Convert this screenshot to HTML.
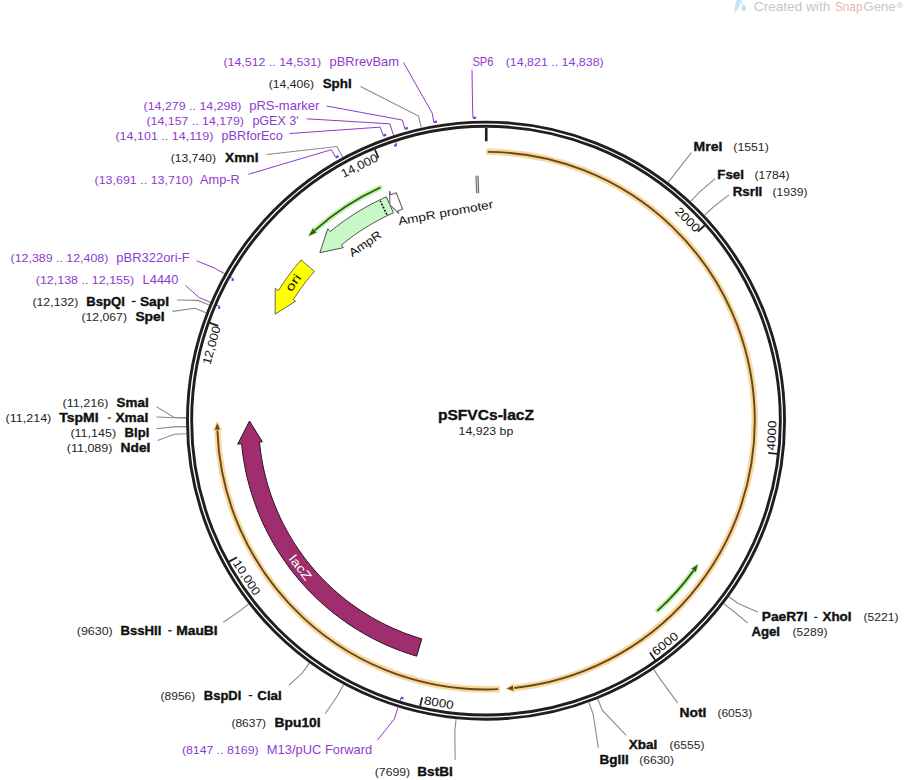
<!DOCTYPE html>
<html><head><meta charset="utf-8"><style>
html,body{margin:0;padding:0;background:#fff;width:904px;height:780px;overflow:hidden}
svg{display:block}
text{font-family:"Liberation Sans",sans-serif}
</style></head><body>
<svg width="904" height="780" viewBox="0 0 904 780">
<rect width="904" height="780" fill="#fff"/>
<g>
<path d="M734.3,13 C734.6,8 735.6,3.5 736.6,0 L741.6,0 C740.5,4.5 738.2,9 734.3,13 Z" fill="#c2e3f1"/>
<path d="M740.6,0.8 C741.8,2.5 742.6,4.2 743,5.8" fill="none" stroke="#d6eef7" stroke-width="1.6"/>
<ellipse cx="743.8" cy="8.2" rx="2.2" ry="2.9" fill="#c6e2ee"/>
<text x="753.8" y="11" font-size="12.8" font-weight="normal" fill="#c6c6c6" stroke="#c6c6c6" stroke-width="0" textLength="76.45" lengthAdjust="spacingAndGlyphs" >Created with</text>
<text x="835" y="11" font-size="12.8" font-weight="normal" fill="#e9b3b3" stroke="#e9b3b3" stroke-width="0" textLength="27.44" lengthAdjust="spacingAndGlyphs" >Snap</text>
<text x="863.5" y="11" font-size="12.8" font-weight="normal" fill="#c6c6c6" stroke="#c6c6c6" stroke-width="0" textLength="31.95" lengthAdjust="spacingAndGlyphs" >Gene</text>
<text x="896.2" y="7.6" font-size="8" font-weight="normal" fill="#c6c6c6" stroke="#c6c6c6" stroke-width="0" textLength="6.77" lengthAdjust="spacingAndGlyphs" >®</text>
</g>
<polyline points="433.83,122.18 432.28,113.31 403.5,62.5" fill="none" stroke="#8f3ad0" stroke-width="1.0"/>
<path d="M433.83,122.18 A303,303 0 0 1 436.96,121.65" fill="none" stroke="#8f3ad0" stroke-width="2.3"/>
<polyline points="421.21,127.73 418.62,116.01 360.5,86.5" fill="none" stroke="#8a8a8a" stroke-width="1.1"/>
<polyline points="404.84,128.72 402.43,120.05 326.6,106" fill="none" stroke="#8f3ad0" stroke-width="1.0"/>
<path d="M404.84,128.72 A303,303 0 0 1 407.91,127.89" fill="none" stroke="#8f3ad0" stroke-width="2.3"/>
<polyline points="396.7,144.95 389.86,123.83 306.6,118.8" fill="none" stroke="#8f3ad0" stroke-width="1.0"/>
<path d="M396.7,144.95 A289.8,289.8 0 0 0 394.15,145.79" fill="none" stroke="#8f3ad0" stroke-width="2.3"/>
<polyline points="383.21,135.62 380.16,127.15 289.6,133.5" fill="none" stroke="#8f3ad0" stroke-width="1.0"/>
<path d="M383.21,135.62 A303,303 0 0 1 386.2,134.56" fill="none" stroke="#8f3ad0" stroke-width="2.3"/>
<polyline points="342.68,157.1 336.94,146.56 266.8,154.5" fill="none" stroke="#8a8a8a" stroke-width="1.1"/>
<polyline points="335.78,157.51 331.32,149.69 248.4,174.3" fill="none" stroke="#8f3ad0" stroke-width="1.0"/>
<path d="M335.78,157.51 A303,303 0 0 1 338.55,155.95" fill="none" stroke="#8f3ad0" stroke-width="2.3"/>
<polyline points="472.99,117.93 472.6,108.94 472,69.8" fill="none" stroke="#8f3ad0" stroke-width="1.0"/>
<path d="M472.99,117.93 A303,303 0 0 1 476.16,117.81" fill="none" stroke="#8f3ad0" stroke-width="2.3"/>
<polyline points="233.35,278.7 213.99,267.83 196.6,260.8" fill="none" stroke="#8f3ad0" stroke-width="1.0"/>
<path d="M233.35,278.7 A289.8,289.8 0 0 0 232.12,280.91" fill="none" stroke="#8f3ad0" stroke-width="2.3"/>
<polyline points="219.68,306.37 199.28,297.61 185.4,285.4" fill="none" stroke="#8f3ad0" stroke-width="1.0"/>
<path d="M219.68,306.37 A289.8,289.8 0 0 0 218.7,308.7" fill="none" stroke="#8f3ad0" stroke-width="2.3"/>
<polyline points="209.18,305.02 198.11,300.4 177.3,300" fill="none" stroke="#8a8a8a" stroke-width="1.1"/>
<polyline points="206.12,312.64 194.92,308.32 172.5,311.4" fill="none" stroke="#8a8a8a" stroke-width="1.1"/>
<polyline points="186.01,417.65 174.02,417.53 156.4,406.6" fill="none" stroke="#8a8a8a" stroke-width="1.1"/>
<polyline points="186.01,417.9 174.01,417.79 156.4,417" fill="none" stroke="#8a8a8a" stroke-width="1.1"/>
<polyline points="186.06,426.62 174.06,426.86 156.4,428.7" fill="none" stroke="#8a8a8a" stroke-width="1.1"/>
<polyline points="186.28,433.69 174.29,434.21 157.5,440.4" fill="none" stroke="#8a8a8a" stroke-width="1.1"/>
<polyline points="248.59,604.06 239.1,611.39 223.3,622.3" fill="none" stroke="#8a8a8a" stroke-width="1.1"/>
<polyline points="309.44,663.19 302.38,672.89 288.8,685.4" fill="none" stroke="#8a8a8a" stroke-width="1.1"/>
<polyline points="343.51,684.65 337.81,695.21 325.2,713.7" fill="none" stroke="#8a8a8a" stroke-width="1.1"/>
<polyline points="400.94,697.69 394.43,718.91 377.3,740.3" fill="none" stroke="#8f3ad0" stroke-width="1.0"/>
<path d="M400.94,697.69 A289.8,289.8 0 0 0 403.51,698.46" fill="none" stroke="#8f3ad0" stroke-width="2.3"/>
<polyline points="456.05,719.15 454.85,731.09 455.1,759.7" fill="none" stroke="#8a8a8a" stroke-width="1.1"/>
<polyline points="588.9,702.45 593.01,713.72 598.3,747.6" fill="none" stroke="#8a8a8a" stroke-width="1.1"/>
<polyline points="597.74,699.06 602.21,710.2 626.2,735.3" fill="none" stroke="#8a8a8a" stroke-width="1.1"/>
<polyline points="653.66,669.42 660.37,679.38 677.6,702.8" fill="none" stroke="#8a8a8a" stroke-width="1.1"/>
<polyline points="723.72,603.66 733.22,610.98 747.8,623.2" fill="none" stroke="#8a8a8a" stroke-width="1.1"/>
<polyline points="728.86,596.78 738.57,603.82 757.8,611.9" fill="none" stroke="#8a8a8a" stroke-width="1.1"/>
<polyline points="668.28,182.38 675.57,172.85 691.4,152.6" fill="none" stroke="#8a8a8a" stroke-width="1.1"/>
<polyline points="690.74,201.38 698.93,192.6 714.9,178.9" fill="none" stroke="#8a8a8a" stroke-width="1.1"/>
<polyline points="704.6,215.19 713.35,206.98 729,194.9" fill="none" stroke="#8a8a8a" stroke-width="1.1"/>
<circle cx="486.0" cy="420.65" r="296.45" fill="none" stroke="#1f1f1f" stroke-width="7.1"/>
<circle cx="486.0" cy="420.65" r="296.45" fill="none" stroke="#fff" stroke-width="1.3"/>
<line x1="486.26" y1="127.65" x2="486.24" y2="141.15" stroke="#1f1f1f" stroke-width="2.6"/>
<line x1="704.59" y1="225.54" x2="697.87" y2="231.53" stroke="#1f1f1f" stroke-width="1.8"/>
<g transform="translate(687.76,219.51) rotate(45.09)"><text x="0" y="4.28" text-anchor="middle" font-size="11.9" font-weight="normal" fill="#111" textLength="29.78" lengthAdjust="spacingAndGlyphs">2000</text></g>
<line x1="777.12" y1="453.79" x2="768.18" y2="452.78" stroke="#1f1f1f" stroke-width="1.8"/>
<g transform="translate(771.41,435.58) rotate(-87.01)"><text x="0" y="4.28" text-anchor="middle" font-size="11.9" font-weight="normal" fill="#111" textLength="29.78" lengthAdjust="spacingAndGlyphs">4000</text></g>
<line x1="655.13" y1="659.91" x2="649.94" y2="652.56" stroke="#1f1f1f" stroke-width="1.8"/>
<g transform="translate(664.92,643.51) rotate(-38.76)"><text x="0" y="4.28" text-anchor="middle" font-size="11.9" font-weight="normal" fill="#111" textLength="29.78" lengthAdjust="spacingAndGlyphs">6000</text></g>
<line x1="420.14" y1="706.15" x2="422.16" y2="697.38" stroke="#1f1f1f" stroke-width="1.8"/>
<g transform="translate(438.88,702.54) rotate(9.49)"><text x="0" y="4.28" text-anchor="middle" font-size="11.9" font-weight="normal" fill="#111" textLength="29.78" lengthAdjust="spacingAndGlyphs">8000</text></g>
<line x1="229.15" y1="561.63" x2="237.04" y2="557.3" stroke="#1f1f1f" stroke-width="1.8"/>
<g transform="translate(246.95,577.3) rotate(56.76)"><text x="0" y="4.28" text-anchor="middle" font-size="11.9" font-weight="normal" fill="#111" textLength="39.44" lengthAdjust="spacingAndGlyphs">10,000</text></g>
<line x1="209.78" y1="322.91" x2="218.27" y2="325.91" stroke="#1f1f1f" stroke-width="1.8"/>
<g transform="translate(211.27,345.22) rotate(-74.65)"><text x="0" y="4.28" text-anchor="middle" font-size="11.9" font-weight="normal" fill="#111" textLength="39.44" lengthAdjust="spacingAndGlyphs">12,000</text></g>
<line x1="374.98" y1="149.5" x2="378.39" y2="157.83" stroke="#1f1f1f" stroke-width="1.8"/>
<g transform="translate(359.33,165.46) rotate(-26.4)"><text x="0" y="4.28" text-anchor="middle" font-size="11.9" font-weight="normal" fill="#111" textLength="39.44" lengthAdjust="spacingAndGlyphs">14,000</text></g>
<path d="M486,151.85 A268.8,268.8 0 0 1 514.1,687.98" fill="none" stroke="#f8d89e" stroke-width="6.5" stroke-linecap="butt"/>
<path d="M514.62,692.95 L504.98,688.78 L513.57,683 Z" fill="#f8d89e"/>
<path d="M487.88,151.86 A268.8,268.8 0 0 1 514.1,687.98" fill="none" stroke="#684718" stroke-width="1.9" stroke-linecap="butt"/>
<path d="M513.45,690.66 L506.81,688.64 L512.92,685.48 Z" fill="#684718"/>
<path d="M500.07,689.08 A268.8,268.8 0 0 1 217.38,430.5" fill="none" stroke="#f8d89e" stroke-width="6.5" stroke-linecap="butt"/>
<path d="M212.38,430.68 L217.2,421.12 L222.38,430.32 Z" fill="#f8d89e"/>
<path d="M498.19,689.17 A268.8,268.8 0 0 1 217.38,430.5" fill="none" stroke="#684718" stroke-width="1.9" stroke-linecap="butt"/>
<path d="M214.75,429.65 L217.21,423 L219.95,429.48 Z" fill="#684718"/>
<path d="M379.84,187.7 A256,256 0 0 0 315.37,229.81" fill="none" stroke="#c2f2a4" stroke-width="5.5" stroke-linecap="round"/>
<path d="M312.57,226.68 L307.53,237.12 L318.17,232.94 Z" fill="#c2f2a4"/>
<path d="M379.84,187.7 A256,256 0 0 0 315.37,229.81" fill="none" stroke="#2c5c17" stroke-width="1.8" stroke-linecap="round"/>
<path d="M312.83,228.59 L308.68,236 L316.31,232.46 Z" fill="#2c5c17"/>
<path d="M657.79,610.45 A256,256 0 0 0 693.11,571.12" fill="none" stroke="#c2f2a4" stroke-width="5.5" stroke-linecap="round"/>
<path d="M696.51,573.59 L698.48,563.43 L689.71,568.65 Z" fill="#c2f2a4"/>
<path d="M657.79,610.45 A256,256 0 0 0 693.11,571.12" fill="none" stroke="#2c5c17" stroke-width="1.8" stroke-linecap="round"/>
<path d="M695.77,571.88 L697.69,564.6 L691.55,568.84 Z" fill="#2c5c17"/>
<path d="M386.35,196.83 L382.58,198.55 L378.84,200.33 L375.13,202.17 L371.45,204.08 L367.81,206.05 L364.19,208.07 L360.62,210.16 L357.08,212.31 L353.57,214.52 L350.11,216.79 L346.68,219.12 L343.29,221.5 L339.95,223.94 L336.64,226.44 L333.38,228.99 L330.16,231.6 L327.81,228.75 L319.82,252.72 L343.39,247.65 L341.29,245.11 L344.28,242.68 L347.31,240.31 L350.38,237.99 L353.49,235.73 L356.63,233.51 L359.81,231.35 L363.03,229.25 L366.29,227.19 L369.57,225.2 L372.9,223.26 L376.25,221.37 L379.63,219.55 L383.05,217.78 L386.49,216.07 L389.97,214.41 L393.47,212.82 Z" fill="#c8f7c8" stroke="#4a564a" stroke-width="1.0" stroke-linejoin="miter"/>
<line x1="386.91" y1="214.75" x2="380.19" y2="200.79" stroke="#111" stroke-width="1.6" stroke-dasharray="2,1.5"/>
<path d="M396.21,192.7 L393.63,193.73 L391.06,194.79 L389.51,191.11 L389.91,204.82 L399,213.69 L397.84,210.93 L400.23,209.94 L402.62,208.98 Z" fill="#ffffff" stroke="#666" stroke-width="1.1" stroke-linejoin="miter"/>
<path d="M301.1,259.92 L298.35,263.13 L295.66,266.39 L293.03,269.7 L290.45,273.05 L287.93,276.45 L285.47,279.89 L283.07,283.37 L280.73,286.89 L278.46,290.46 L275.24,288.44 L275.13,314.13 L295.57,301.19 L293.28,299.76 L295.39,296.45 L297.57,293.18 L299.79,289.94 L302.08,286.75 L304.42,283.6 L306.81,280.48 L309.25,277.41 L311.75,274.38 L314.3,271.4 Z" fill="#ffff00" stroke="#555" stroke-width="0.9" stroke-linejoin="miter"/>
<path d="M416.69,656.16 L412.63,654.93 L408.6,653.63 L404.6,652.26 L400.61,650.82 L396.65,649.31 L392.72,647.74 L388.82,646.1 L384.94,644.39 L381.1,642.61 L377.29,640.77 L373.51,638.86 L369.76,636.89 L366.05,634.85 L362.37,632.75 L358.73,630.58 L355.13,628.36 L351.56,626.07 L348.04,623.72 L344.56,621.31 L341.12,618.84 L337.72,616.31 L334.37,613.72 L331.06,611.08 L327.8,608.38 L324.58,605.62 L321.41,602.81 L318.3,599.94 L315.23,597.02 L312.21,594.05 L309.25,591.03 L306.33,587.95 L303.47,584.83 L300.67,581.66 L297.92,578.44 L295.23,575.17 L292.59,571.85 L290.01,568.49 L287.49,565.09 L285.03,561.65 L282.62,558.16 L280.28,554.63 L278,551.06 L275.78,547.45 L273.63,543.81 L271.53,540.13 L269.51,536.41 L267.54,532.66 L265.64,528.87 L263.81,525.06 L262.04,521.21 L260.34,517.33 L258.7,513.42 L257.14,509.49 L255.64,505.53 L254.21,501.54 L252.85,497.53 L251.56,493.5 L250.33,489.44 L249.18,485.36 L248.1,481.27 L247.09,477.16 L246.15,473.03 L245.28,468.88 L244.49,464.72 L243.76,460.55 L243.11,456.37 L242.53,452.17 L242.02,447.97 L241.59,443.75 L237.71,444.12 L249.5,421.06 L262.3,441.8 L259.51,442.06 L259.91,445.96 L260.38,449.86 L260.92,453.75 L261.52,457.62 L262.2,461.49 L262.93,465.35 L263.74,469.19 L264.61,473.01 L265.54,476.83 L266.55,480.62 L267.61,484.4 L268.75,488.15 L269.94,491.89 L271.2,495.61 L272.53,499.3 L273.92,502.97 L275.37,506.62 L276.88,510.24 L278.46,513.83 L280.1,517.4 L281.8,520.94 L283.56,524.45 L285.38,527.92 L287.26,531.37 L289.2,534.78 L291.2,538.16 L293.25,541.5 L295.37,544.81 L297.54,548.08 L299.76,551.31 L302.04,554.5 L304.38,557.65 L306.77,560.77 L309.21,563.84 L311.71,566.87 L314.26,569.85 L316.86,572.79 L319.51,575.69 L322.21,578.54 L324.95,581.34 L327.75,584.09 L330.59,586.8 L333.48,589.45 L336.42,592.06 L339.4,594.61 L342.42,597.12 L345.48,599.57 L348.59,601.96 L351.74,604.31 L354.93,606.6 L358.15,608.83 L361.42,611.01 L364.72,613.13 L368.06,615.19 L371.43,617.2 L374.84,619.14 L378.28,621.03 L381.75,622.86 L385.26,624.63 L388.79,626.34 L392.35,627.98 L395.94,629.57 L399.56,631.09 L403.2,632.55 L406.87,633.95 L410.56,635.28 L414.28,636.55 L418.01,637.75 L421.77,638.89 Z" fill="#a02e6e" stroke="#2a1020" stroke-width="1.0" stroke-linejoin="miter"/>
<line x1="477.66" y1="193.3" x2="477.02" y2="175.81" stroke="#6a6a6a" stroke-width="3.2"/>
<line x1="477.66" y1="193.3" x2="477.02" y2="175.81" stroke="#d8d8d8" stroke-width="1.0"/>
<g transform="translate(445.6,212.5) rotate(-10.3)"><text x="0" y="4.25" text-anchor="middle" font-size="11.8" font-weight="normal" fill="#111" textLength="96.5" lengthAdjust="spacingAndGlyphs">AmpR promoter</text></g>
<g transform="translate(365,243.5) rotate(-34.2)"><text x="0" y="4.18" text-anchor="middle" font-size="11.6" font-weight="normal" fill="#111" textLength="36.5" lengthAdjust="spacingAndGlyphs">AmpR</text></g>
<g transform="translate(293,282.6) rotate(-54.5)"><text x="0" y="4.32" text-anchor="middle" font-size="12" font-weight="normal" fill="#111" textLength="18" lengthAdjust="spacingAndGlyphs">ori</text></g>
<g transform="translate(300.5,567.5) rotate(52)"><text x="0" y="4.46" text-anchor="middle" font-size="12.4" font-weight="normal" fill="#fff" textLength="28.5" lengthAdjust="spacingAndGlyphs">lacZ</text></g>
<text x="437.9" y="420.1" font-size="15.2" font-weight="bold" fill="#111" stroke="#111" stroke-width="0.35" textLength="96.16" lengthAdjust="spacingAndGlyphs" >pSFVCs-lacZ</text>
<text x="458.6" y="435" font-size="11.8" font-weight="normal" fill="#222" stroke="#222" stroke-width="0" textLength="54.68" lengthAdjust="spacingAndGlyphs" >14,923 bp</text>
<text x="223.4" y="65.9" font-size="11.2" font-weight="normal" fill="#8f3ad0" stroke="#8f3ad0" stroke-width="0" textLength="97.85" lengthAdjust="spacingAndGlyphs" >(14,512 .. 14,531)</text>
<text x="329.6" y="65.9" font-size="12.4" font-weight="normal" fill="#8f3ad0" stroke="#8f3ad0" stroke-width="0" textLength="69.41" lengthAdjust="spacingAndGlyphs" >pBRrevBam</text>
<text x="268.8" y="88.1" font-size="11.2" font-weight="normal" fill="#262626" stroke="#262626" stroke-width="0" textLength="45.15" lengthAdjust="spacingAndGlyphs" >(14,406)</text>
<text x="322.7" y="88.1" font-size="12.4" font-weight="bold" fill="#111" stroke="#111" stroke-width="0.35" textLength="28.95" lengthAdjust="spacingAndGlyphs" >SphI</text>
<text x="143.6" y="110.1" font-size="11.2" font-weight="normal" fill="#8f3ad0" stroke="#8f3ad0" stroke-width="0" textLength="97.85" lengthAdjust="spacingAndGlyphs" >(14,279 .. 14,298)</text>
<text x="249.2" y="110.1" font-size="12.4" font-weight="normal" fill="#8f3ad0" stroke="#8f3ad0" stroke-width="0" textLength="70.09" lengthAdjust="spacingAndGlyphs" >pRS-marker</text>
<text x="146.5" y="124.7" font-size="11.2" font-weight="normal" fill="#8f3ad0" stroke="#8f3ad0" stroke-width="0" textLength="97.45" lengthAdjust="spacingAndGlyphs" >(14,157 .. 14,179)</text>
<text x="252.4" y="124.7" font-size="12.4" font-weight="normal" fill="#8f3ad0" stroke="#8f3ad0" stroke-width="0" textLength="46.24" lengthAdjust="spacingAndGlyphs" >pGEX 3'</text>
<text x="115.4" y="140" font-size="11.2" font-weight="normal" fill="#8f3ad0" stroke="#8f3ad0" stroke-width="0" textLength="97.99" lengthAdjust="spacingAndGlyphs" >(14,101 .. 14,119)</text>
<text x="221.5" y="140" font-size="12.4" font-weight="normal" fill="#8f3ad0" stroke="#8f3ad0" stroke-width="0" textLength="61.24" lengthAdjust="spacingAndGlyphs" >pBRforEco</text>
<text x="170.7" y="161.7" font-size="11.2" font-weight="normal" fill="#262626" stroke="#262626" stroke-width="0" textLength="45.25" lengthAdjust="spacingAndGlyphs" >(13,740)</text>
<text x="225" y="161.7" font-size="12.4" font-weight="bold" fill="#111" stroke="#111" stroke-width="0.35" textLength="33.47" lengthAdjust="spacingAndGlyphs" >XmnI</text>
<text x="94.5" y="183.8" font-size="11.2" font-weight="normal" fill="#8f3ad0" stroke="#8f3ad0" stroke-width="0" textLength="98.45" lengthAdjust="spacingAndGlyphs" >(13,691 .. 13,710)</text>
<text x="200" y="183.8" font-size="12.4" font-weight="normal" fill="#8f3ad0" stroke="#8f3ad0" stroke-width="0" textLength="39.72" lengthAdjust="spacingAndGlyphs" >Amp-R</text>
<text x="472.4" y="65.6" font-size="12.4" font-weight="normal" fill="#8f3ad0" stroke="#8f3ad0" stroke-width="0" textLength="21.2" lengthAdjust="spacingAndGlyphs" >SP6</text>
<text x="505.7" y="65.6" font-size="11.2" font-weight="normal" fill="#8f3ad0" stroke="#8f3ad0" stroke-width="0" textLength="98.05" lengthAdjust="spacingAndGlyphs" >(14,821 .. 14,838)</text>
<text x="10.6" y="261.5" font-size="11.2" font-weight="normal" fill="#8f3ad0" stroke="#8f3ad0" stroke-width="0" textLength="97.75" lengthAdjust="spacingAndGlyphs" >(12,389 .. 12,408)</text>
<text x="116.3" y="261.5" font-size="12.4" font-weight="normal" fill="#8f3ad0" stroke="#8f3ad0" stroke-width="0" textLength="73.48" lengthAdjust="spacingAndGlyphs" >pBR322ori-F</text>
<text x="35.8" y="283.5" font-size="11.2" font-weight="normal" fill="#8f3ad0" stroke="#8f3ad0" stroke-width="0" textLength="98.25" lengthAdjust="spacingAndGlyphs" >(12,138 .. 12,155)</text>
<text x="142.6" y="283.5" font-size="12.4" font-weight="normal" fill="#8f3ad0" stroke="#8f3ad0" stroke-width="0" textLength="35.81" lengthAdjust="spacingAndGlyphs" >L4440</text>
<text x="32.4" y="305.5" font-size="11.2" font-weight="normal" fill="#262626" stroke="#262626" stroke-width="0" textLength="45.95" lengthAdjust="spacingAndGlyphs" >(12,132)</text>
<text x="86.3" y="305.5" font-size="12.4" font-weight="bold" fill="#111" stroke="#111" stroke-width="0.35" textLength="38.56" lengthAdjust="spacingAndGlyphs" >BspQI</text>
<rect x="131.70" y="300.90" width="4.00" height="1.2" fill="#111"/>
<text x="139.9" y="305.5" font-size="12.4" font-weight="bold" fill="#111" stroke="#111" stroke-width="0.35" textLength="29.22" lengthAdjust="spacingAndGlyphs" >SapI</text>
<text x="81.5" y="320.9" font-size="11.2" font-weight="normal" fill="#262626" stroke="#262626" stroke-width="0" textLength="45.45" lengthAdjust="spacingAndGlyphs" >(12,067)</text>
<text x="135.4" y="320.9" font-size="12.4" font-weight="bold" fill="#111" stroke="#111" stroke-width="0.35" textLength="29.22" lengthAdjust="spacingAndGlyphs" >SpeI</text>
<text x="62.6" y="407.3" font-size="11.2" font-weight="normal" fill="#262626" stroke="#262626" stroke-width="0" textLength="45.8" lengthAdjust="spacingAndGlyphs" >(11,216)</text>
<text x="116.6" y="407.3" font-size="12.4" font-weight="bold" fill="#111" stroke="#111" stroke-width="0.35" textLength="32.1" lengthAdjust="spacingAndGlyphs" >SmaI</text>
<text x="5.5" y="422.1" font-size="11.2" font-weight="normal" fill="#262626" stroke="#262626" stroke-width="0" textLength="45.8" lengthAdjust="spacingAndGlyphs" >(11,214)</text>
<text x="59.3" y="422.1" font-size="12.4" font-weight="bold" fill="#111" stroke="#111" stroke-width="0.35" textLength="39.26" lengthAdjust="spacingAndGlyphs" >TspMI</text>
<rect x="107.70" y="417.50" width="3.20" height="1.2" fill="#111"/>
<text x="115.5" y="422.1" font-size="12.4" font-weight="bold" fill="#111" stroke="#111" stroke-width="0.35" textLength="32.7" lengthAdjust="spacingAndGlyphs" >XmaI</text>
<text x="70.4" y="437.1" font-size="11.2" font-weight="normal" fill="#262626" stroke="#262626" stroke-width="0" textLength="45.8" lengthAdjust="spacingAndGlyphs" >(11,145)</text>
<text x="124.6" y="437.1" font-size="12.4" font-weight="bold" fill="#111" stroke="#111" stroke-width="0.35" textLength="24.68" lengthAdjust="spacingAndGlyphs" >BlpI</text>
<text x="66.8" y="451.5" font-size="11.2" font-weight="normal" fill="#262626" stroke="#262626" stroke-width="0" textLength="45.6" lengthAdjust="spacingAndGlyphs" >(11,089)</text>
<text x="120.6" y="451.5" font-size="12.4" font-weight="bold" fill="#111" stroke="#111" stroke-width="0.35" textLength="29.76" lengthAdjust="spacingAndGlyphs" >NdeI</text>
<text x="76.8" y="634.8" font-size="11.2" font-weight="normal" fill="#262626" stroke="#262626" stroke-width="0" textLength="35.9" lengthAdjust="spacingAndGlyphs" >(9630)</text>
<text x="120.5" y="634.8" font-size="12.4" font-weight="bold" fill="#111" stroke="#111" stroke-width="0.35" textLength="40.93" lengthAdjust="spacingAndGlyphs" >BssHII</text>
<rect x="168.20" y="630.20" width="3.60" height="1.2" fill="#111"/>
<text x="176.2" y="634.8" font-size="12.4" font-weight="bold" fill="#111" stroke="#111" stroke-width="0.35" textLength="41.5" lengthAdjust="spacingAndGlyphs" >MauBI</text>
<text x="160.6" y="699.6" font-size="11.2" font-weight="normal" fill="#262626" stroke="#262626" stroke-width="0" textLength="34.7" lengthAdjust="spacingAndGlyphs" >(8956)</text>
<text x="203.8" y="699.6" font-size="12.4" font-weight="bold" fill="#111" stroke="#111" stroke-width="0.35" textLength="37.49" lengthAdjust="spacingAndGlyphs" >BspDI</text>
<rect x="248.70" y="695.00" width="3.60" height="1.2" fill="#111"/>
<text x="257.3" y="699.6" font-size="12.4" font-weight="bold" fill="#111" stroke="#111" stroke-width="0.35" textLength="24.45" lengthAdjust="spacingAndGlyphs" >ClaI</text>
<text x="231.4" y="726.9" font-size="11.2" font-weight="normal" fill="#262626" stroke="#262626" stroke-width="0" textLength="34.7" lengthAdjust="spacingAndGlyphs" >(8637)</text>
<text x="274.6" y="726.9" font-size="12.4" font-weight="bold" fill="#111" stroke="#111" stroke-width="0.35" textLength="46.05" lengthAdjust="spacingAndGlyphs" >Bpu10I</text>
<text x="181.9" y="753.8" font-size="11.2" font-weight="normal" fill="#8f3ad0" stroke="#8f3ad0" stroke-width="0" textLength="76.75" lengthAdjust="spacingAndGlyphs" >(8147 .. 8169)</text>
<text x="266.8" y="753.8" font-size="12.4" font-weight="normal" fill="#8f3ad0" stroke="#8f3ad0" stroke-width="0" textLength="105.48" lengthAdjust="spacingAndGlyphs" >M13/pUC Forward</text>
<text x="374.8" y="775.7" font-size="11.2" font-weight="normal" fill="#262626" stroke="#262626" stroke-width="0" textLength="35.4" lengthAdjust="spacingAndGlyphs" >(7699)</text>
<text x="417.3" y="775.7" font-size="12.4" font-weight="bold" fill="#111" stroke="#111" stroke-width="0.35" textLength="35.42" lengthAdjust="spacingAndGlyphs" >BstBI</text>
<text x="599.5" y="763.5" font-size="12.4" font-weight="bold" fill="#111" stroke="#111" stroke-width="0.35" textLength="29.25" lengthAdjust="spacingAndGlyphs" >BglII</text>
<text x="639.3" y="763.5" font-size="11.2" font-weight="normal" fill="#262626" stroke="#262626" stroke-width="0" textLength="34.7" lengthAdjust="spacingAndGlyphs" >(6630)</text>
<text x="628.8" y="748.6" font-size="12.4" font-weight="bold" fill="#111" stroke="#111" stroke-width="0.35" textLength="28.52" lengthAdjust="spacingAndGlyphs" >XbaI</text>
<text x="669.6" y="748.6" font-size="11.2" font-weight="normal" fill="#262626" stroke="#262626" stroke-width="0" textLength="34.9" lengthAdjust="spacingAndGlyphs" >(6555)</text>
<text x="679.6" y="716.8" font-size="12.4" font-weight="bold" fill="#111" stroke="#111" stroke-width="0.35" textLength="26.85" lengthAdjust="spacingAndGlyphs" >NotI</text>
<text x="717.4" y="716.8" font-size="11.2" font-weight="normal" fill="#262626" stroke="#262626" stroke-width="0" textLength="34.8" lengthAdjust="spacingAndGlyphs" >(6053)</text>
<text x="751.4" y="636.2" font-size="12.4" font-weight="bold" fill="#111" stroke="#111" stroke-width="0.35" textLength="28.66" lengthAdjust="spacingAndGlyphs" >AgeI</text>
<text x="792.6" y="636.2" font-size="11.2" font-weight="normal" fill="#262626" stroke="#262626" stroke-width="0" textLength="34.9" lengthAdjust="spacingAndGlyphs" >(5289)</text>
<text x="761.8" y="621.2" font-size="12.4" font-weight="bold" fill="#111" stroke="#111" stroke-width="0.35" textLength="45.74" lengthAdjust="spacingAndGlyphs" >PaeR7I</text>
<rect x="814.20" y="616.80" width="3.10" height="1.2" fill="#111"/>
<text x="822.5" y="621.2" font-size="12.4" font-weight="bold" fill="#111" stroke="#111" stroke-width="0.35" textLength="29.05" lengthAdjust="spacingAndGlyphs" >XhoI</text>
<text x="863.5" y="621.3" font-size="11.2" font-weight="normal" fill="#262626" stroke="#262626" stroke-width="0" textLength="35" lengthAdjust="spacingAndGlyphs" >(5221)</text>
<text x="693.6" y="150.7" font-size="12.4" font-weight="bold" fill="#111" stroke="#111" stroke-width="0.35" textLength="28.75" lengthAdjust="spacingAndGlyphs" >MreI</text>
<text x="733.3" y="150.7" font-size="11.2" font-weight="normal" fill="#262626" stroke="#262626" stroke-width="0" textLength="35.5" lengthAdjust="spacingAndGlyphs" >(1551)</text>
<text x="717.3" y="178.9" font-size="12.4" font-weight="bold" fill="#111" stroke="#111" stroke-width="0.35" textLength="26.71" lengthAdjust="spacingAndGlyphs" >FseI</text>
<text x="754.4" y="178.9" font-size="11.2" font-weight="normal" fill="#262626" stroke="#262626" stroke-width="0" textLength="35.1" lengthAdjust="spacingAndGlyphs" >(1784)</text>
<text x="732.7" y="195.8" font-size="12.4" font-weight="bold" fill="#111" stroke="#111" stroke-width="0.35" textLength="29.64" lengthAdjust="spacingAndGlyphs" >RsrII</text>
<text x="772.6" y="195.8" font-size="11.2" font-weight="normal" fill="#262626" stroke="#262626" stroke-width="0" textLength="35" lengthAdjust="spacingAndGlyphs" >(1939)</text>
</svg>
</body></html>
